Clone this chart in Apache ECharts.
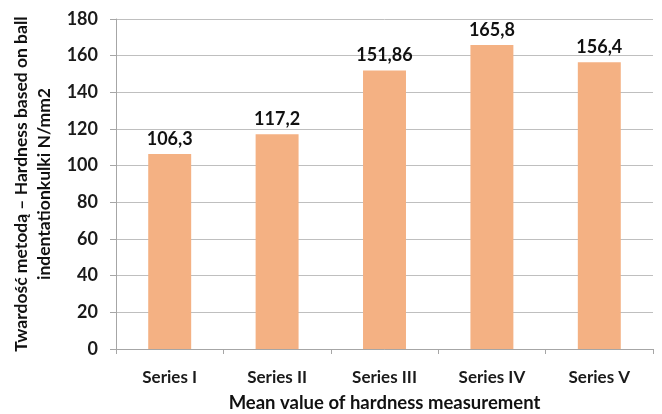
<!DOCTYPE html>
<html>
<head>
<meta charset="utf-8">
<script src="https://cdn.jsdelivr.net/npm/echarts@6/dist/echarts.min.js"></script>
<style>
html, body { margin: 0; padding: 0; background: #fff; }
#chart { width: 662px; height: 414px; }
</style>
</head>
<body>
<div id="chart"></div>
<script>
// categories and mean hardness values
var categories = ['Series I', 'Series II', 'Series III', 'Series IV', 'Series V'];
var hardness = [106.3, 117.2, 151.86, 165.8, 156.4];
var yMin = 0, yMax = 180, yStep = 20;

var FONT = 'Lato';
var myChart = echarts.init(document.getElementById('chart'));

var option = {
    backgroundColor: '#fff',
    animation: false,
    grid: {
        left: 116,
        right: 9,
        top: 19,
        bottom: 65,
        containLabel: false,
        outerBoundsMode: 'none'
    },
    xAxis: {
        type: 'category',
        data: categories,
        name: 'Mean value of hardness measurement',
        nameLocation: 'middle',
        nameGap: 45,
        nameTextStyle: { fontFamily: FONT, fontWeight: 'bold', fontSize: 18.5, color: '#111' },
        axisLine: { lineStyle: { color: '#a6a6a6' } },
        axisTick: { show: true, alignWithLabel: false, length: 5, lineStyle: { color: '#a6a6a6' } },
        axisLabel: { fontFamily: FONT, fontWeight: 'bold', fontSize: 17, color: '#1a1a1a', margin: 20 }
    },
    yAxis: {
        type: 'value',
        min: yMin,
        max: yMax,
        interval: yStep,
        name: 'Twardość metodą – Hardness based on ball\nindentationkulki N/mm2',
        nameLocation: 'middle',
        nameRotate: 90,
        nameGap: 54,
        nameTextStyle: { fontFamily: FONT, fontWeight: 'bold', fontSize: 17.5, color: '#111', lineHeight: 23, align: 'center' },
        axisLine: { show: true, lineStyle: { color: '#a6a6a6' } },
        axisTick: { show: true, length: 6, lineStyle: { color: '#a6a6a6' } },
        axisLabel: { fontFamily: FONT, fontWeight: 'bold', fontSize: 18, color: '#1a1a1a', margin: 18 },
        splitLine: { lineStyle: { color: '#bfbfbf' } }
    },
    series: [{
        type: 'bar',
        data: hardness,
        barWidth: '40%',
        itemStyle: { color: '#F4B183' },
        label: {
            show: true,
            position: 'top',
            distance: 6,
            fontFamily: FONT,
            fontWeight: 'bold',
            fontSize: 18,
            color: '#111',
            formatter: function (p) {
                return String(p.value).replace('.', ',');
            }
        }
    }]
};
myChart.setOption(option);
</script>
</body>
</html>
